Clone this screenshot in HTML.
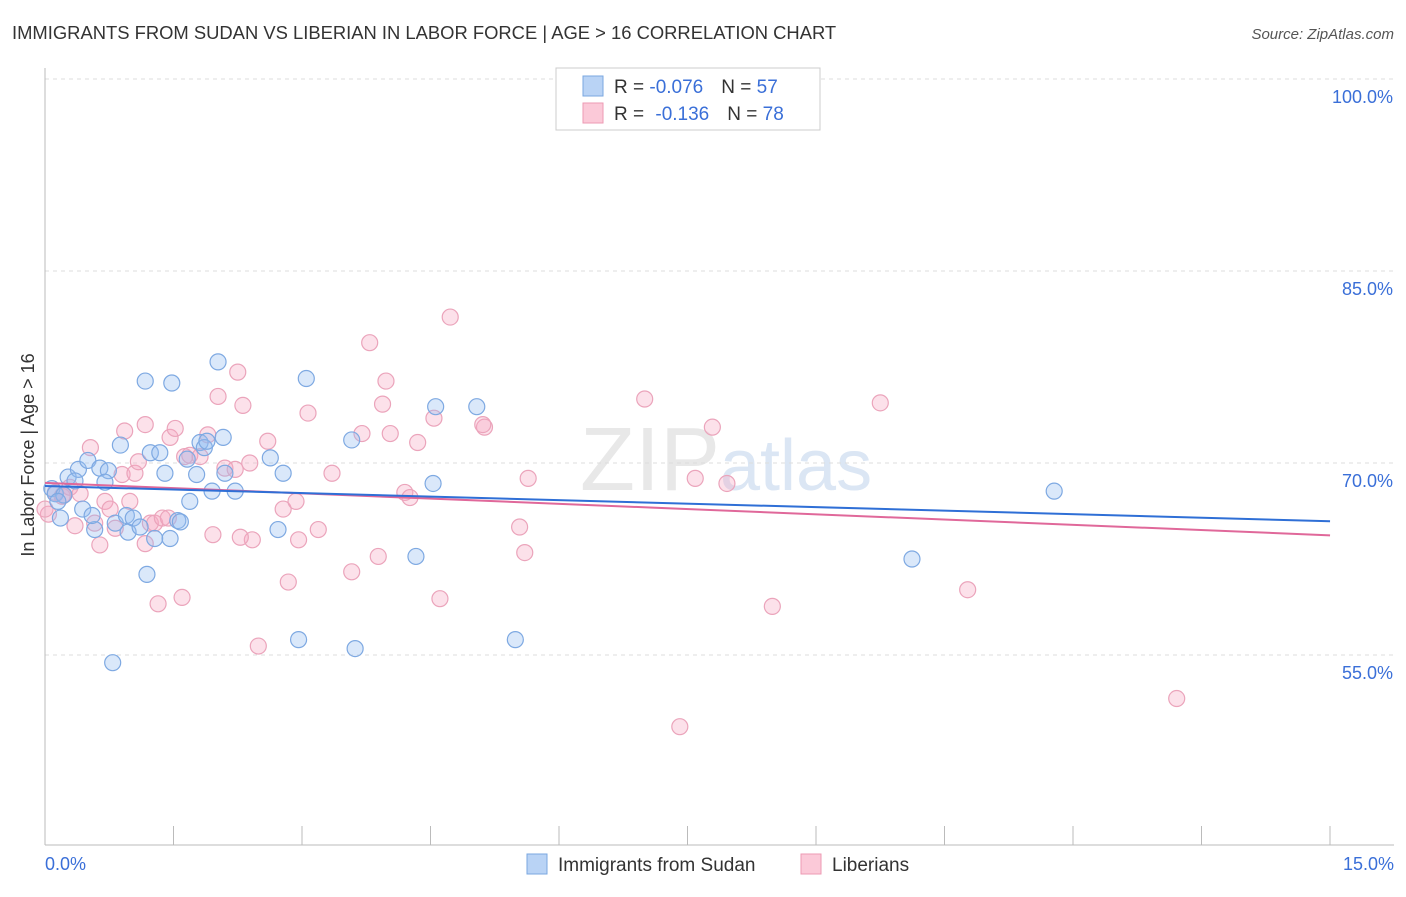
<!DOCTYPE html>
<html><head><meta charset="utf-8"><style>
body{margin:0;background:#fff;font-family:"Liberation Sans",sans-serif;}
svg text{font-family:"Liberation Sans",sans-serif;}
</style></head><body>
<svg id="c" width="1406" height="892">
<text x="12" y="39" font-size="18.4" fill="#333">IMMIGRANTS FROM SUDAN VS LIBERIAN IN LABOR FORCE | AGE &gt; 16 CORRELATION CHART</text>
<text x="1394" y="39" font-size="15" fill="#555" font-style="italic" text-anchor="end">Source: ZipAtlas.com</text>
<text x="720" y="490" font-size="90" fill="#e8e8e8" font-family="Liberation Serif" text-anchor="end">ZIP</text>
<text x="720" y="490" font-size="72" fill="#dbe6f4">atlas</text>
<text x="34" y="455" font-size="18" fill="#333" text-anchor="middle" transform="rotate(-90 34 455)">In Labor Force | Age &gt; 16</text>
<g id="grid"></g><g id="pts"></g><g id="lines"></g>
<g>
<rect x="556" y="68" width="264" height="62" fill="#fff" stroke="#ccc"/>
<rect x="583" y="76" width="20" height="20" fill="#b9d3f5" stroke="#7aa7e0"/>
<rect x="583" y="103" width="20" height="20" fill="#fbc9d8" stroke="#ec9ab3"/>
<text x="614" y="93" font-size="19" fill="#333">R = <tspan fill="#3a6fd8">-0.076</tspan><tspan dx="18">N = </tspan><tspan fill="#3a6fd8">57</tspan></text>
<text x="614" y="120" font-size="19" fill="#333">R = <tspan dx="6" fill="#3a6fd8">-0.136</tspan><tspan dx="18">N = </tspan><tspan fill="#3a6fd8">78</tspan></text>
</g>
<g>
<rect x="527" y="854" width="20" height="20" fill="#b9d3f5" stroke="#7aa7e0"/>
<text x="558" y="871" font-size="19" fill="#333">Immigrants from Sudan</text>
<rect x="801" y="854" width="20" height="20" fill="#fbc9d8" stroke="#ec9ab3"/>
<text x="832" y="871" font-size="19" fill="#333">Liberians</text>
</g>
</svg>
<script>
const yTicks=[55,70,85,100];
const xTickLabels=["0.0%","15.0%"];
const sudanX=[0.08,0.12,0.18,0.27,0.39,0.44,0.5,0.58,0.64,0.74,0.7,0.55,0.82,0.88,0.97,0.95,1.03,1.11,1.17,1.23,1.28,1.34,1.4,1.46,1.48,1.55,1.58,1.66,1.69,1.77,1.81,1.86,1.89,1.95,2.02,2.08,2.1,2.22,1.19,0.79,2.63,2.72,2.78,2.96,3.05,3.58,3.62,4.33,4.53,4.56,5.04,5.49,10.12,11.78,0.22,0.35,0.15];
const sudanY=[68.0,67.6,65.7,68.9,69.5,66.4,70.2,64.8,69.6,69.4,68.5,65.9,65.3,71.4,64.6,65.9,65.7,65.0,76.4,70.8,64.1,70.8,69.2,64.1,76.25,65.5,65.4,70.3,67.0,69.1,71.6,71.2,71.7,67.8,77.9,72.0,69.2,67.8,61.3,54.4,70.4,64.8,69.2,56.2,76.6,71.8,55.5,62.7,68.4,74.4,74.4,56.2,62.5,67.8,67.5,68.6,67.0];
const libX=[0.04,0.12,0.2,0.29,0.35,0.41,0.53,0.58,0.64,0.7,0.76,0.82,0.9,0.93,0.99,1.05,1.09,1.17,1.23,1.28,1.32,1.37,1.44,1.46,1.52,1.6,1.63,1.69,1.81,1.9,1.96,2.02,2.1,2.22,2.25,2.31,2.39,2.42,2.49,2.6,2.78,2.84,2.93,2.96,3.07,3.19,3.35,3.58,3.7,3.79,3.89,3.94,3.98,4.03,4.2,4.26,4.35,4.54,4.61,4.73,5.13,5.11,5.54,5.6,5.64,7.0,7.41,7.59,7.79,7.96,8.49,9.75,10.77,13.21,0.0,2.28,1.17,0.21];
const libY=[66.0,67.7,67.4,68.1,65.1,67.6,71.2,65.3,63.6,67.0,66.4,64.9,69.1,72.5,67.0,69.2,70.1,63.7,65.3,65.3,59.0,65.7,65.7,72.0,72.7,59.5,70.5,70.6,70.5,72.2,64.4,75.2,69.6,69.5,77.1,74.5,70.0,64.0,55.7,71.7,66.4,60.7,67.0,64.0,73.9,64.8,69.2,61.5,72.3,79.4,62.7,74.6,76.4,72.3,67.7,67.3,71.6,73.5,59.4,81.4,72.8,73.0,65.0,63.0,68.8,75.0,49.4,68.8,72.8,68.4,58.8,74.7,60.1,51.6,66.4,64.2,73.0,67.5];
const sudanTrend=[68.2,65.45];
const libTrend=[68.45,64.35];
const X=v=>45+v*85.67, Y=v=>79+(100-v)*12.8;
const NS="http://www.w3.org/2000/svg";
function mk(t,a,p){const e=document.createElementNS(NS,t);for(const k in a)e.setAttribute(k,a[k]);p.appendChild(e);return e;}
const g=document.getElementById('grid');
yTicks.forEach(v=>{
 const l=mk('line',{x1:45,x2:1394,y1:Y(v),y2:Y(v),stroke:'#ddd','stroke-dasharray':'4,4'},g);
 
 
 const t=mk('text',{x:1393,y:Y(v)+24,'font-size':18,fill:'#3a6fd8','text-anchor':'end'},g);t.textContent=v.toFixed(1)+'%';
 
 
});
mk('line',{x1:45,x2:45,y1:68,y2:845,stroke:'#bbb'},g);
mk('line',{x1:45,x2:1394,y1:845,y2:845,stroke:'#bbb'},g);
for(let i=0;i<=10;i++){mk('line',{x1:45+i*128.5,x2:45+i*128.5,y1:826,y2:845,stroke:'#bbb'},g);}
const t0=mk('text',{x:45,y:870,'font-size':18,fill:'#3a6fd8'},g);t0.textContent=xTickLabels[0];


const t1=mk('text',{x:1394,y:870,'font-size':18,fill:'#3a6fd8','text-anchor':'end'},g);t1.textContent=xTickLabels[1];


const P=document.getElementById('pts');
libX.forEach((x,i)=>{const c=mk('circle',{cx:X(x),cy:Y(libY[i]),r:8,fill:'rgba(246,170,195,0.35)',stroke:'#eba4bb','stroke-width':1.2},P);
 
 });
sudanX.forEach((x,i)=>{const c=mk('circle',{cx:X(x),cy:Y(sudanY[i]),r:8,fill:'rgba(150,190,240,0.35)',stroke:'#7ea9e2','stroke-width':1.2},P);
 
 });
const L=document.getElementById('lines');
const a=mk('line',{x1:X(0),x2:X(15),y1:Y(libTrend[0]),y2:Y(libTrend[1]),stroke:'#e0689a','stroke-width':2},L);


const b=mk('line',{x1:X(0),x2:X(15),y1:Y(sudanTrend[0]),y2:Y(sudanTrend[1]),stroke:'#2f6fd6','stroke-width':2},L);


</script>
</body></html>
